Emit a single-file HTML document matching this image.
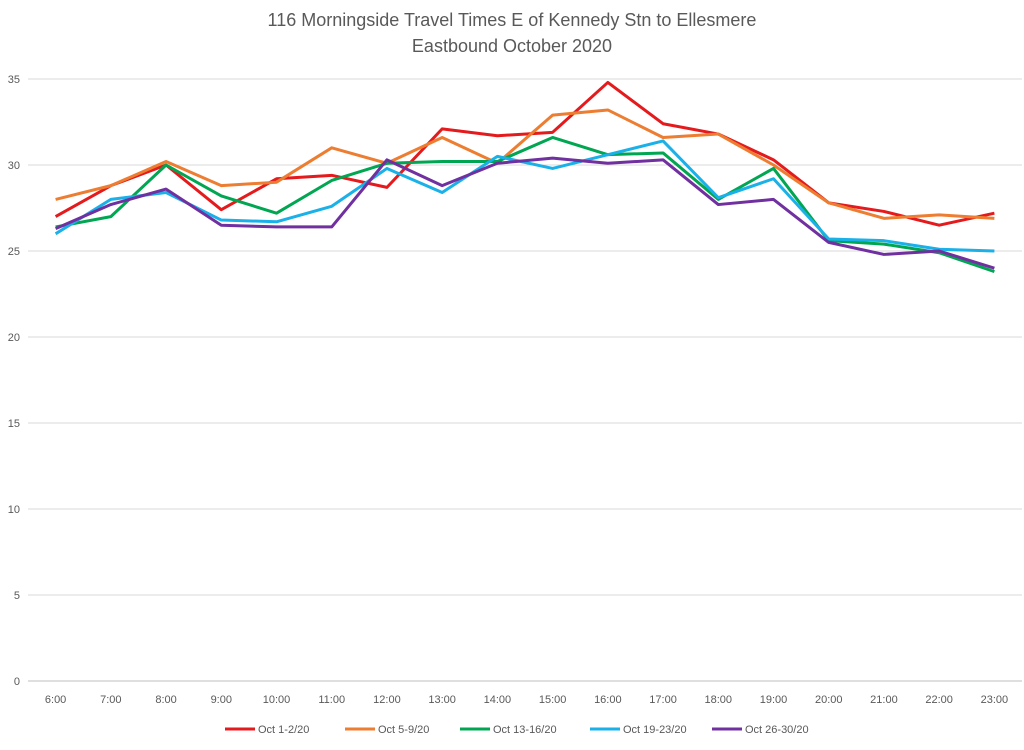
<!DOCTYPE html>
<html><head><meta charset="utf-8"><style>
body{margin:0;background:#fff;font-family:"Liberation Sans",sans-serif}
</style></head><body>
<svg id="c" width="1024" height="745" xmlns="http://www.w3.org/2000/svg" font-family="Liberation Sans, sans-serif">
<text x="512" y="26" text-anchor="middle" font-size="18" fill="#595959">116 Morningside Travel Times E of Kennedy Stn to Ellesmere</text>
<text x="512" y="52" text-anchor="middle" font-size="18" fill="#595959">Eastbound  October 2020</text>
<g id="grid"></g><g id="lines"></g><g id="legend"></g>
</svg>
<script>
const categories=["6:00","7:00","8:00","9:00","10:00","11:00","12:00","13:00","14:00","15:00","16:00","17:00","18:00","19:00","20:00","21:00","22:00","23:00"];
const yTicks=[0,5,10,15,20,25,30,35];
const seriesNames=["Oct 1-2/20","Oct 5-9/20","Oct 13-16/20","Oct 19-23/20","Oct 26-30/20"];
const seriesColors=["#e41a1c","#ed7d31","#00a651","#1ab0e8","#7030a0"];
const s1=[27.0,28.8,30.0,27.4,29.2,29.4,28.7,32.1,31.7,31.9,34.8,32.4,31.8,30.3,27.8,27.3,26.5,27.2];
const s2=[28.0,28.8,30.2,28.8,29.0,31.0,30.1,31.6,30.1,32.9,33.2,31.6,31.8,30.0,27.8,26.9,27.1,26.9];
const s3=[26.4,27.0,30.0,28.2,27.2,29.1,30.1,30.2,30.2,31.6,30.6,30.7,28.0,29.8,25.6,25.4,24.9,23.8];
const s4=[26.0,28.0,28.4,26.8,26.7,27.6,29.8,28.4,30.5,29.8,30.6,31.4,28.1,29.2,25.7,25.6,25.1,25.0];
const s5=[26.3,27.7,28.6,26.5,26.4,26.4,30.3,28.8,30.1,30.4,30.1,30.3,27.7,28.0,25.5,24.8,25.0,24.0];
const series=[s1,s2,s3,s4,s5];
const NS="http://www.w3.org/2000/svg";
const x0=28,x1=1022,yB=681,yT=79,yMax=35;
const step=(x1-x0)/categories.length;
const X=i=>x0+step*(i+0.5);
const Y=v=>yB-(v/yMax)*(yB-yT);
function mk(t,a,p){const e=document.createElementNS(NS,t);for(const k in a)e.setAttribute(k,a[k]);p.appendChild(e);return e;}
const g=document.getElementById('grid');
yTicks.forEach(t=>{
 const l=mk('line',{x1:x0,x2:x1,y1:Y(t),y2:Y(t),stroke:t===0?'#bfbfbf':'#d9d9d9','stroke-width':1},g);
 
 
 const tx=mk('text',{x:20,y:Y(t)+4,'text-anchor':'end','font-size':11,fill:'#595959'},g);
 tx.textContent=t;
 
 
});
categories.forEach((c,i)=>{
 const tx=mk('text',{x:X(i),y:703,'text-anchor':'middle','font-size':11,fill:'#595959'},g);
 tx.textContent=c;
 
 
});
const lg=document.getElementById('lines');
series.forEach((s,k)=>{
 const p=mk('polyline',{points:s.map((v,i)=>X(i)+','+Y(v)).join(' '),fill:'none',stroke:seriesColors[k],'stroke-width':3,'stroke-linejoin':'round'},lg);
 
 
});
const leg=document.getElementById('legend');
const lx=[225,345,460,590,712];
seriesNames.forEach((n,k)=>{
 const grp=mk('g',{},leg);
 
 
 mk('line',{x1:lx[k],x2:lx[k]+30,y1:729,y2:729,stroke:seriesColors[k],'stroke-width':3},grp);
 const t=mk('text',{x:lx[k]+33,y:733,'font-size':11,fill:'#595959'},grp);
 t.textContent=n;
});
</script>
</body></html>
